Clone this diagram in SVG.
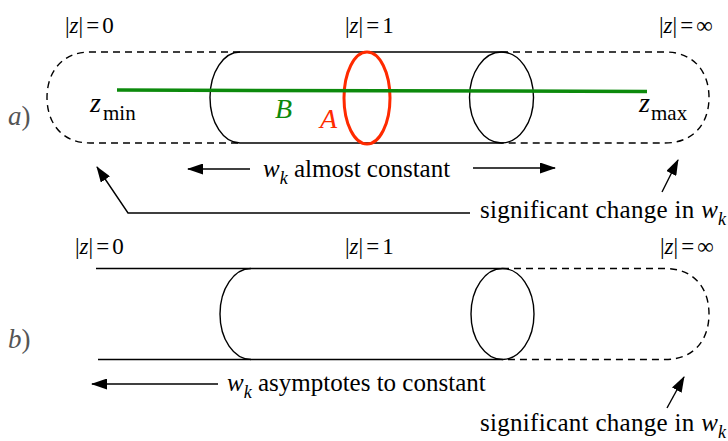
<svg xmlns="http://www.w3.org/2000/svg" width="728" height="441" viewBox="0 0 728 441">
<style>
text{font-family:"Liberation Serif","Times New Roman",serif}
.lbl{font-size:23px}
.txt{font-size:25px}
.sig{font-size:25px;letter-spacing:0.3px}
.sub{font-size:18px;font-style:italic;letter-spacing:0}
.it{font-style:italic}
.ln{fill:none;stroke:#000;stroke-width:1.4}
.dash{fill:none;stroke:#000;stroke-width:1.4;stroke-dasharray:7,5}
.arr{fill:none;stroke:#000;stroke-width:1.4;marker-end:url(#ah)}
.pl{font-size:27px;fill:#555}
</style>
<defs>
<marker id="ah" viewBox="0 0 16 11" refX="15" refY="5.5" markerWidth="16" markerHeight="11" markerUnits="userSpaceOnUse" orient="auto">
<path d="M0,0 L16,5.5 L0,11 z" fill="#000"/>
</marker>
</defs>

<g id="panel-a-labels">
<text class="lbl" x="65" y="33">|<tspan class="it">z</tspan>|<tspan dx="3">=</tspan><tspan dx="3">0</tspan></text>
<text class="lbl" x="345" y="33">|<tspan class="it">z</tspan>|<tspan dx="3">=</tspan><tspan dx="3">1</tspan></text>
<text class="lbl" x="659" y="33">|<tspan class="it">z</tspan>|<tspan dx="3">=</tspan><tspan dx="3">∞</tspan></text>
<text class="pl" x="8" y="125"><tspan class="it">a</tspan>)</text>
</g>

<g id="tube-a">
<path class="dash" d="M240,52 H90 C62,52 47,72 47,97.5 C47,123 62,143 90,143 H240"/>
<path class="dash" d="M501,52 H665 C694,52 709,72 709,97.5 C709,123 694,143 665,143 H501"/>
<path class="ln" d="M240,52 H501 M240,143 H501"/>
<path class="ln" d="M240,52 A30,45.5 0 0 0 240,143"/>
<ellipse class="ln" cx="501.5" cy="97.5" rx="32" ry="45.5"/>
</g>

<g id="circle-A">
<ellipse cx="367" cy="98" rx="23" ry="46" fill="none" stroke="#ff2a00" stroke-width="3"/>
<text class="it" x="320" y="128" font-size="28" fill="#ff2a00">A</text>
</g>

<g id="line-B">
<path d="M117,90 L647,91.5" stroke="#0c8a0c" stroke-width="3.5" fill="none"/>
<text class="it" x="275" y="118" font-size="28" fill="#0c8a0c">B</text>
<text x="90" y="112" font-size="28" class="it">z</text>
<text x="103" y="120" font-size="21">min</text>
<text x="639" y="112" font-size="28" class="it">z</text>
<text x="651" y="120" font-size="21">max</text>
</g>

<g id="texts-a">
<text class="txt" x="263" y="177"><tspan class="it">w</tspan><tspan class="sub" dy="7">k</tspan><tspan dy="-7"> almost constant</tspan></text>
<text class="sig" x="480" y="218">significant change in <tspan class="it">w</tspan><tspan class="sub" dy="7">k</tspan></text>
</g>

<g id="panel-b-labels">
<text class="lbl" x="75" y="254">|<tspan class="it">z</tspan>|<tspan dx="3">=</tspan><tspan dx="3">0</tspan></text>
<text class="lbl" x="345" y="254">|<tspan class="it">z</tspan>|<tspan dx="3">=</tspan><tspan dx="3">1</tspan></text>
<text class="lbl" x="660" y="254">|<tspan class="it">z</tspan>|<tspan dx="3">=</tspan><tspan dx="3">∞</tspan></text>
<text class="pl" x="8" y="348"><tspan class="it">b</tspan>)</text>
</g>

<g id="tube-b">
<path class="ln" d="M96,268.5 H502 M98,359.5 H502"/>
<path class="ln" d="M251,268.5 A31,45.5 0 0 0 251,359.5"/>
<ellipse class="ln" cx="502.5" cy="314" rx="31.5" ry="45.5"/>
<path class="dash" d="M502,268.5 H665 C694,268.5 709,288 709,314 C709,340 694,359.5 665,359.5 H502"/>
</g>

<g id="texts-b">
<text class="txt" x="227" y="391"><tspan class="it">w</tspan><tspan class="sub" dy="7">k</tspan><tspan dy="-7"> asymptotes to constant</tspan></text>
<text class="sig" x="480" y="431">significant change in <tspan class="it">w</tspan><tspan class="sub" dy="7">k</tspan></text>
</g>

<g id="connectors">
<path class="arr" d="M250,169 H188"/>
<path class="arr" d="M473,168 H555"/>
<path class="arr" d="M470,213 H128 L97,167"/>
<path class="arr" d="M662,192 L678,160"/>
<path class="arr" d="M218,384 H92"/>
<path class="arr" d="M667,408 L684,377"/>
</g>
</svg>
